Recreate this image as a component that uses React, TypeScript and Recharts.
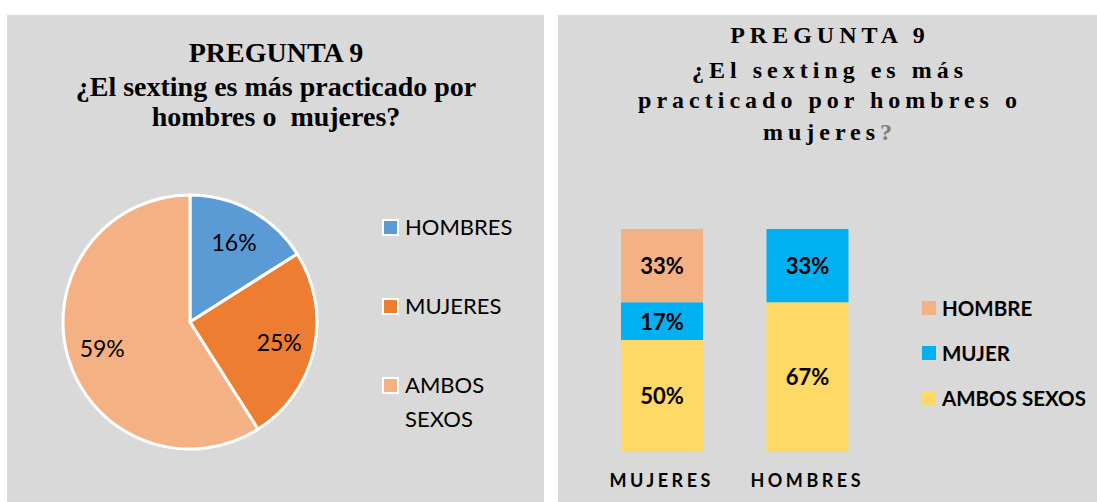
import React from 'react';
import { PieChart, Pie, Cell, BarChart, Bar, XAxis, YAxis, LabelList, Legend } from 'recharts';

const pieNames = ['HOMBRES', 'MUJERES', 'AMBOS SEXOS'];
const pieValues = [16, 25, 59];
const pieColors = ['#5b9bd5', '#ed7d31', '#f4b183'];

const barCategories = ['MUJERES', 'HOMBRES'];
const hombreValues = [33, 0];
const mujerValues = [17, 33];
const ambosValues = [50, 67];
const barSeries = ['HOMBRE', 'MUJER', 'AMBOS SEXOS'];
const barColors = ['#f4b183', '#00b0f0', '#ffd966'];

const leftTitle = ['PREGUNTA 9', '¿El sexting es más practicado por', 'hombres o  mujeres?'];
const rightTitle = ['PREGUNTA 9', '¿El sexting es más', 'practicado por hombres o', 'mujeres'];

const pieData = pieNames.map((name, i) => ({ name, value: pieValues[i] }));
const barData = barCategories.map((name, i) => ({
    name,
    hombre: hombreValues[i],
    mujer: mujerValues[i],
    ambos: ambosValues[i]
}));

const SANS = 'Lato, "Noto Sans", sans-serif';
const SERIF = '"Liberation Serif", "Times New Roman", serif';
const GRAY = '#d9d9d9';
const RAD = Math.PI / 180;

const renderPieLabel = (p: any) => {
    const r = p.outerRadius * 0.72;
    const x = p.cx + r * Math.cos(-p.midAngle * RAD);
    const y = p.cy + r * Math.sin(-p.midAngle * RAD);
    return (
        <text x={x} y={y} textAnchor="middle" dominantBaseline="central" fill="#000" fontFamily={SANS} fontSize={23}>
            {p.value}%
        </text>
    );
};

const renderBarLabel = (p: any) => {
    if (!p.value) return null;
    return (
        <text
            x={p.x + p.width / 2}
            y={p.y + p.height / 2}
            textAnchor="middle"
            dominantBaseline="central"
            fill="#000"
            fontFamily={SANS}
            fontWeight={700}
            fontSize={22}
        >
            {p.value}%
        </text>
    );
};

const AxisTick = (p: any) => (
    <text
        x={p.x}
        y={p.y}
        dy={28}
        textAnchor="middle"
        fill="#000"
        fontFamily={SANS}
        fontWeight={700}
        fontSize={18}
        style={{ letterSpacing: 3.5 }}
    >
        {p.payload.value}
    </text>
);

const PieLegend = () => (
    <div style={{ fontFamily: SANS, fontSize: 22, color: '#000' }}>
        {pieNames.map((n, i) => (
            <div key={n} style={{ display: 'flex', alignItems: 'flex-start', height: 79, lineHeight: '34px' }}>
                <span
                    style={{
                        width: 13,
                        height: 13,
                        background: pieColors[i],
                        border: '2px solid #fff',
                        marginTop: 8.5,
                        marginRight: 6,
                        flex: 'none'
                    }}
                />
                <span style={{ width: 125 }}>{n}</span>
            </div>
        ))}
    </div>
);

const BarLegend = () => (
    <div style={{ fontFamily: SANS, fontSize: 20.5, fontWeight: 700, color: '#000' }}>
        {barSeries.map((n, i) => (
            <div key={n} style={{ display: 'flex', alignItems: 'center', height: 45 }}>
                <span style={{ width: 14, height: 14, background: barColors[i], marginRight: 6, flex: 'none' }} />
                <span style={{ whiteSpace: 'nowrap' }}>{n}</span>
            </div>
        ))}
    </div>
);

export default function App() {
    return (
        <div style={{ position: 'absolute', left: 0, top: 0, width: 1097, height: 502, background: '#fff' }}>
            <div style={{ position: 'absolute', left: 7, top: 15, width: 537, height: 487, background: GRAY }}>
                <PieChart width={537} height={485} margin={{ top: 0, right: 0, bottom: 0, left: 0 }}>
                    <Pie
                        data={pieData}
                        dataKey="value"
                        nameKey="name"
                        cx={183}
                        cy={307}
                        outerRadius={127}
                        startAngle={90}
                        endAngle={-270}
                        stroke="#fff"
                        strokeWidth={3}
                        label={renderPieLabel}
                        labelLine={false}
                        isAnimationActive={false}
                    >
                        {pieData.map((d, i) => (
                            <Cell key={d.name} fill={pieColors[i]} />
                        ))}
                    </Pie>
                    <Legend
                        layout="horizontal"
                        align="center"
                        verticalAlign="middle"
                        content={<PieLegend />}
                        wrapperStyle={{ left: 375, top: 195, width: 160, height: 240 }}
                    />
                </PieChart>
            </div>
            <div style={{ position: 'absolute', left: 558, top: 15, width: 539, height: 487, background: GRAY }}>
                <BarChart
                    width={539}
                    height={485}
                    data={barData}
                    barSize={82}
                    margin={{ top: 214, right: 217, bottom: 19, left: 31 }}
                >
                    <XAxis dataKey="name" axisLine={false} tickLine={false} height={30} tick={<AxisTick />} interval={0} />
                    <YAxis hide domain={[0, 100]} />
                    <Bar dataKey="ambos" stackId="a" fill={barColors[2]} isAnimationActive={false}>
                        <LabelList dataKey="ambos" content={renderBarLabel} />
                    </Bar>
                    <Bar dataKey="mujer" stackId="a" fill={barColors[1]} isAnimationActive={false}>
                        <LabelList dataKey="mujer" content={renderBarLabel} />
                    </Bar>
                    <Bar dataKey="hombre" stackId="a" fill={barColors[0]} isAnimationActive={false}>
                        <LabelList dataKey="hombre" content={renderBarLabel} />
                    </Bar>
                    <Legend
                        layout="horizontal"
                        align="center"
                        verticalAlign="middle"
                        content={<BarLegend />}
                        wrapperStyle={{ left: 364, top: 270, width: 175, height: 135 }}
                    />
                </BarChart>
            </div>
            <svg
                width={1097}
                height={502}
                style={{ position: 'absolute', left: 0, top: 0, pointerEvents: 'none' }}
            >
                <g fontFamily={SERIF} fontWeight={700} fontSize={28} fill="#000" textAnchor="middle">
                    {leftTitle.map((t, i) => (
                        <text key={i} x={276} y={[62, 96, 126][i]} style={{ whiteSpace: 'pre' }}>
                            {t}
                        </text>
                    ))}
                </g>
                <g
                    fontFamily={SERIF}
                    fontWeight={700}
                    fontSize={24}
                    fill="#000"
                    textAnchor="middle"
                    style={{ letterSpacing: 5 }}
                >
                    {rightTitle.map((t, i) => (
                        <text key={i} x={830} y={[43, 78, 108, 140][i]}>
                            {t}
                            {i === rightTitle.length - 1 ? <tspan fill="#7f7f7f">?</tspan> : null}
                        </text>
                    ))}
                </g>
            </svg>
        </div>
    );
}
